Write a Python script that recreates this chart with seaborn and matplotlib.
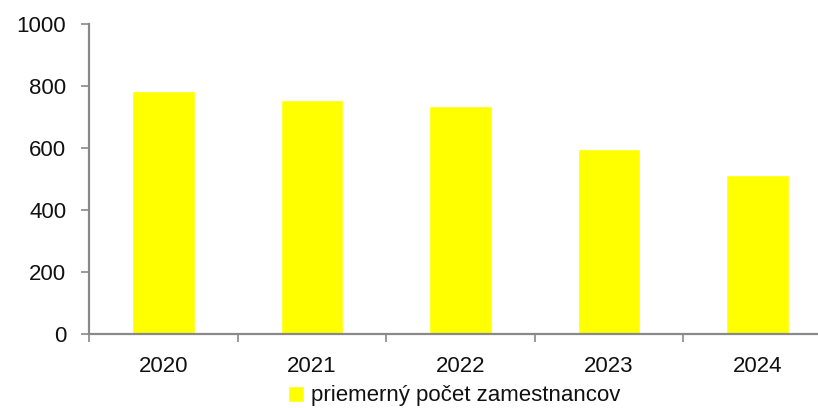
import pandas as pd
import matplotlib.pyplot as plt
import seaborn as sns

# values
years = ['2020', '2021', '2022', '2023', '2024']
employees = [785, 756, 737, 597, 512]
series_label = 'priemerný počet zamestnancov'

df = pd.DataFrame({'rok': years, 'pocet': employees})

sns.set_style('white')
plt.rcParams['font.family'] = ['Liberation Sans', 'DejaVu Sans']
plt.rcParams['xtick.bottom'] = True
plt.rcParams['ytick.left'] = True

fig = plt.figure(figsize=(8.18, 4.08), dpi=100)
ax = fig.add_axes([0.109, 0.181, 0.908, 0.760])

sns.barplot(data=df, x='rok', y='pocet', color='#FFFF00', saturation=1,
            width=0.42, ax=ax, label=series_label)

ax.set_xlim(-0.5, len(years) - 0.5)
ax.set_ylim(0, 1000)
ax.set_yticks(range(0, 1001, 200))
ax.set_xlabel('')
ax.set_ylabel('')

# spines
for side in ['top', 'right']:
    ax.spines[side].set_visible(False)
for side in ['left', 'bottom']:
    ax.spines[side].set_color('#898989')
    ax.spines[side].set_linewidth(1.6)

# category boundary ticks on x, labels at centers
ax.set_xticks([i - 0.5 for i in range(len(years) + 1)], minor=True)
ax.tick_params(axis='x', which='major', bottom=False, length=0, pad=16,
               labelsize=16, labelcolor='#111111')
ax.tick_params(axis='x', which='minor', bottom=True, length=6, width=1.2,
               color='#898989', direction='out')
ax.tick_params(axis='y', which='major', left=True, length=5.5, width=1.2,
               color='#898989', direction='out', labelsize=16, pad=11,
               labelcolor='#111111')

ax.legend(loc='center', bbox_to_anchor=(454 / 818, 1 - 396 / 408),
          bbox_transform=fig.transFigure, frameon=False, fontsize=16,
          handlelength=0.75, handleheight=0.75, handletextpad=0.3,
          labelcolor='#111111')

fig.savefig('out.png', dpi=100)
